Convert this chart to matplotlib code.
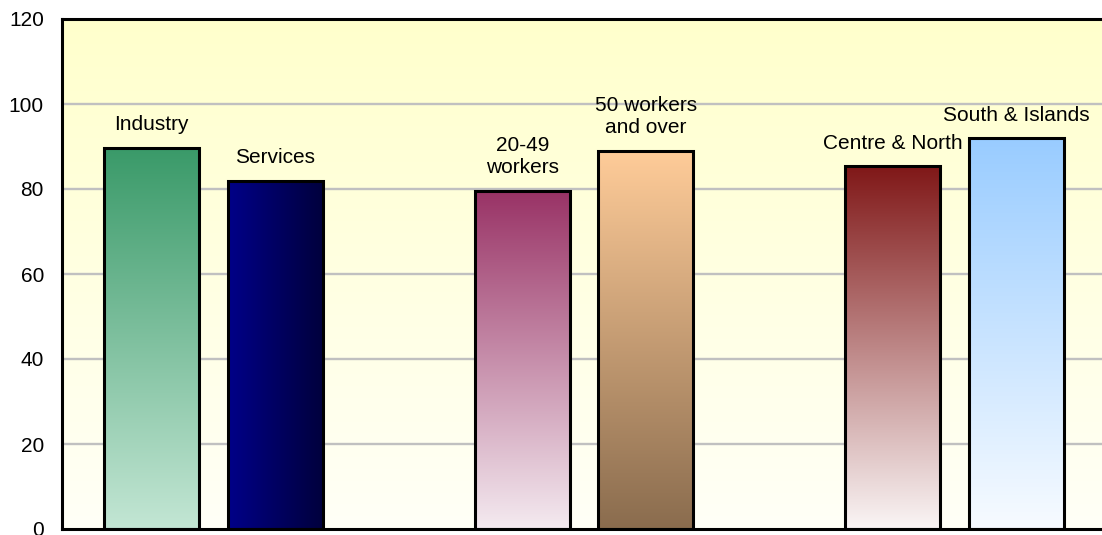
import numpy as np
import matplotlib
matplotlib.use("Agg")
import matplotlib.pyplot as plt
from matplotlib.colors import to_rgb

# Share of firms (index) by sector, size class and area
groups = [
    ["Industry", "Services"],
    ["20-49\nworkers", "50 workers\nand over"],
    ["Centre & North", "South & Islands"],
]
values = [
    [89.6, 81.9],
    [79.5, 89.0],
    [85.3, 91.9],
]
yticks = [0, 20, 40, 60, 80, 100, 120]

# fill styles: (start colour, end colour, direction)
fills = [
    [("#3A9A69", "#C3E6D4", "v"), ("#000088", "#00003C", "h")],
    [("#993366", "#F4EAF0", "v"), ("#FFCC99", "#8A6C4E", "v")],
    [("#801818", "#FAF5F5", "v"), ("#99CCFF", "#F7FBFF", "v")],
]

plt.rcParams["font.family"] = ["Liberation Sans", "DejaVu Sans"]

fig = plt.figure(figsize=(11.02, 5.35), dpi=100)
ax = fig.add_axes([62 / 1102, 6 / 535, (1140 - 62) / 1102, 510 / 535])

# pale yellow background fading towards the baseline
bg_top = np.array(to_rgb("#FFFFCC"))
bg_bot = np.array(to_rgb("#FFFFF7"))
t = np.linspace(0, 1, 256)[:, None]
bg = (bg_top * (1 - t) + bg_bot * t)[:, None, :]
ax.imshow(bg, extent=(0, 1, 0, 1), transform=ax.transAxes,
          aspect="auto", zorder=0, interpolation="bilinear")

for yv in yticks[1:-1]:
    ax.axhline(yv, color="#C0C0C0", lw=1.7, zorder=1)

width = 0.77
pos = 0
for names, vals, styles in zip(groups, values, fills):
    for name, v, (c0, c1, d) in zip(names, vals, styles):
        a = np.array(to_rgb(c0))
        b = np.array(to_rgb(c1))
        s = np.linspace(0, 1, 256)
        grad = a * (1 - s)[:, None] + b * s[:, None]
        if d == "v":
            img = grad[:, None, :]
        else:
            img = grad[None, :, :]
        ax.imshow(img, extent=(pos - width / 2, pos + width / 2, 0, v),
                  aspect="auto", zorder=2, interpolation="bilinear")
        ax.bar(pos, v, width=width, facecolor="none", edgecolor="black",
               linewidth=2.2, zorder=3)
        ax.annotate(name, (pos, v), xytext=(0, 10), textcoords="offset points",
                    ha="center", va="bottom", fontsize=15, linespacing=1.2,
                    zorder=4)
        pos += 1
    pos += 1

ax.set_xlim(-0.725, 8.0)
ax.set_ylim(0, 120)
ax.set_yticks(yticks)
ax.set_yticklabels([str(y) for y in yticks], fontsize=15)
ax.set_xticks([])
ax.tick_params(axis="y", length=0, pad=13)
for sp in ax.spines.values():
    sp.set_linewidth(2.2)
    sp.set_color("black")

fig.savefig("out.png", dpi=100)
